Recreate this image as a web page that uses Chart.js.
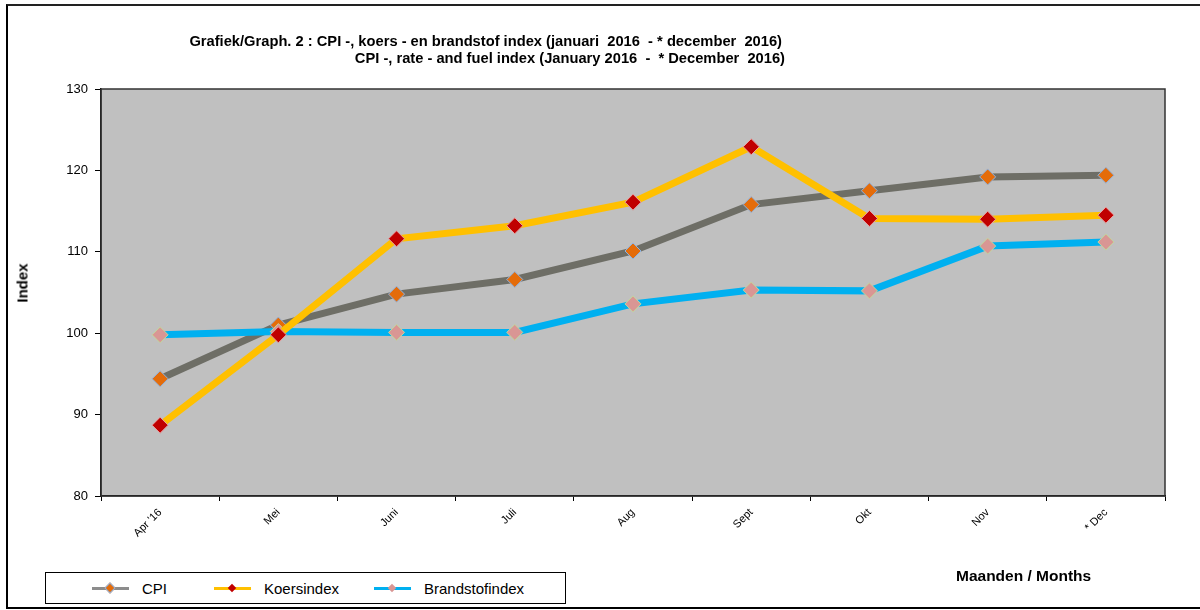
<!DOCTYPE html>
<html>
<head>
<meta charset="utf-8">
<script src="https://cdn.jsdelivr.net/npm/chart.js@4/dist/chart.umd.min.js"></script>
<style>
  body { margin: 0; background: #fff; font-family: "Liberation Sans", Arial, sans-serif; }
  #wrap { position: relative; width: 1200px; height: 610px; overflow: hidden; }
  #frame { position: absolute; left: 6px; top: 4px; width: 1200px; height: 601px;
           border-top: 2px solid #222; border-left: 2px solid #000; border-bottom: 2px solid #000; }
  canvas { position: absolute; left: 0; top: 0; }
  .title { position: absolute; font-weight: bold; font-size: 14.7px; white-space: pre; right: 418px; }
  #ylab { position: absolute; left: 22px; top: 283px; font-weight: bold; font-size: 15px;
          transform: translate(-50%, -50%) rotate(-90deg); }
  #xlab { position: absolute; left: 956px; top: 567px; font-weight: bold; font-size: 15.5px; }
  #legend { position: absolute; left: 45px; top: 572px; width: 519px; height: 30px; border: 1px solid #000;
            background: #fff; font-size: 15px; }
  .item { position: absolute; top: 0; height: 30px; display: flex; align-items: center; }
  .swatch { position: relative; width: 37px; height: 3px; margin-right: 13px; }
  .dot { position: absolute; left: 15px; top: -2px; width: 6px; height: 6px; transform: rotate(45deg); }
</style>
</head>
<body>
<div id="wrap">
  <div id="frame"></div>
  <canvas id="chart" width="1200" height="610"></canvas>
  <div class="title" style="top:33px">Grafiek/Graph. 2 : CPI -, koers - en brandstof index (januari  2016  - * december  2016)</div>
  <div class="title" style="top:50px;right:415px">CPI -, rate - and fuel index (January 2016  -  * December  2016)</div>
  <div id="ylab">Index</div>
  <div id="xlab">Maanden / Months</div>
  <div id="legend">
    <div class="item" style="left:46px"><div class="swatch" style="background:#8c8c8c"><div class="dot" style="background:#e46c0a;border:1px solid #8eb4e3;left:14px;top:-3px"></div></div>CPI</div>
    <div class="item" style="left:168px"><div class="swatch" style="background:#ffc000"><div class="dot" style="background:#c00000;left:15px;top:-2px"></div></div>Koersindex</div>
    <div class="item" style="left:328px"><div class="swatch" style="background:#00b0f0"><div class="dot" style="background:#d99694;left:15px;top:-2px"></div></div>Brandstofindex</div>
  </div>
</div>
<script>
const months = ["Apr '16", "Mei", "Juni", "Juli", "Aug", "Sept", "Okt", "Nov", "* Dec"];
const cpi = [94.4, 101.0, 104.8, 106.6, 110.1, 115.8, 117.5, 119.2, 119.4];
const koers = [88.7, 99.8, 111.6, 113.2, 116.1, 122.9, 114.1, 114.0, 114.5];
const brandstof = [99.8, 100.2, 100.1, 100.1, 103.6, 105.3, 105.2, 110.7, 111.2];

// grey plot background + frame
const plotBg = {
  id: "plotBg",
  beforeDraw(chart) {
    const a = chart.chartArea, ctx = chart.ctx;
    ctx.save();
    ctx.fillStyle = "#c0c0c0";
    ctx.fillRect(a.left, a.top, a.right - a.left, a.bottom - a.top);
    ctx.restore();
  },
  beforeDatasetsDraw(chart) {
    const a = chart.chartArea, ctx = chart.ctx;
    ctx.save();
    ctx.strokeStyle = "#333";
    ctx.lineWidth = 1.5;
    ctx.strokeRect(a.left, a.top, a.right - a.left, a.bottom - a.top);
    ctx.restore();
  }
};

const ds = (label, data, line, fill, border, order) => ({
  label, data, order,
  borderColor: line, borderWidth: 7,
  pointStyle: "rectRot", pointRadius: 8, pointHoverRadius: 8,
  pointBackgroundColor: fill, pointBorderColor: border, pointBorderWidth: 1,
  tension: 0
});

new Chart(document.getElementById("chart"), {
  type: "line",
  data: {
    labels: months,
    datasets: [
      ds("Brandstofindex", brandstof, "#00b0f0", "#d99694", "#c3d69b", 1),
      ds("CPI", cpi, "#6e6e66", "#e46c0a", "#8eb4e3", 2),
      ds("Koersindex", koers, "#ffc000", "#c00000", "#e6a0a0", 0)
    ]
  },
  plugins: [plotBg],
  options: {
    responsive: false,
    animation: false,
    events: [],
    layout: { padding: { left: 0, top: 89, right: 35, bottom: 0 } },
    plugins: { legend: { display: false }, tooltip: { enabled: false } },
    scales: {
      x: {
        offset: true,
        afterFit(s) { s.height = 114; },
        grid: { offset: true, drawOnChartArea: false, color: "#000", tickLength: 5 },
        border: { color: "#000", width: 1.5 },
        ticks: { color: "#000", font: { family: "Liberation Sans", size: 11 },
                 minRotation: 45, maxRotation: 45, autoSkip: false, padding: 5 }
      },
      y: {
        min: 80, max: 130,
        afterFit(s) { s.width = 101; },
        grid: { drawOnChartArea: false, color: "#000", tickLength: 6 },
        border: { color: "#000", width: 1.5 },
        ticks: { stepSize: 10, color: "#000", font: { family: "Liberation Sans", size: 13 }, padding: 7 }
      }
    }
  }
});
</script>
</body>
</html>
